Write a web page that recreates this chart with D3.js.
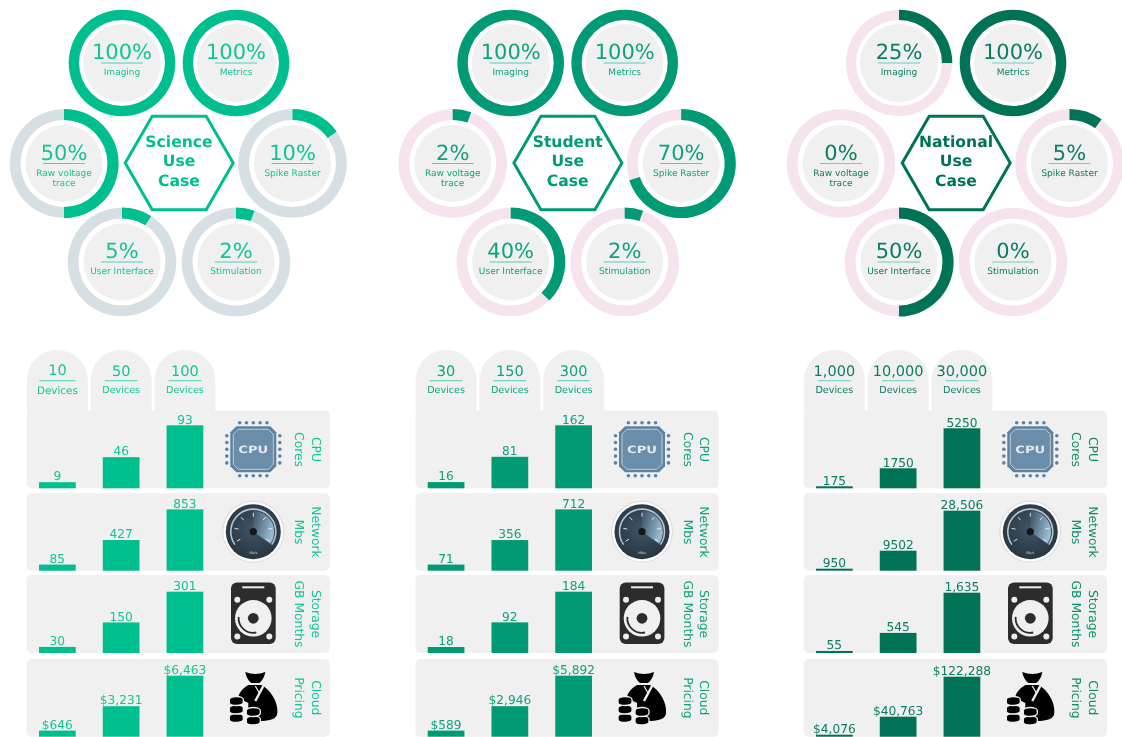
<!DOCTYPE html>
<html>
<head>
<meta charset="utf-8">
<script src="https://cdn.jsdelivr.net/npm/d3@7"></script>
<style>
	html, body { margin: 0; padding: 0; background: #fff; overflow: hidden; }
	/* the picture is soft, like a scaled up raster */
	svg { filter: blur(0.4px); }
	text { font-family: "DejaVu Sans", sans-serif; text-rendering: geometricPrecision; }
</style>
</head>
<body>
<svg id="chart" width="1122" height="737">
	<defs>
		<radialGradient id="gaugeFace" cx="50%" cy="45%" r="60%">
			<stop offset="0%" stop-color="#3f5566"/>
			<stop offset="100%" stop-color="#26333d"/>
		</radialGradient>
		<linearGradient id="gaugeWedge" x1="0" y1="0" x2="1" y2="0.4">
			<stop offset="0%" stop-color="#3a5062"/>
			<stop offset="100%" stop-color="#98bad0"/>
		</linearGradient>
	</defs>
</svg>
<script>
// donut labels and what each ring prints
var donutNames = ["Imaging", "Metrics", "Raw voltage|trace", "Spike Raster", "User Interface", "Stimulation"];
var sciencePct = [100, 100, 50, 10, 5, 2];
var studentPct = [100, 100, 2, 70, 40, 2];
var nationalPct = [25, 100, 0, 5, 50, 0];
// how far the green arc really goes in the picture, not always the printed number
var scienceArc = [100, 100, 50, 15, 9, 5.5];
var studentArc = [100, 100, 5.5, 70, 37.5, 5.5];
var nationalArc = [25, 100, 0, 10, 50, 0];

var useCases = ["Science", "Student", "National"];
var rowNames = [["CPU", "Cores"], ["Network", "Mbs"], ["Storage", "GB Months"], ["Cloud", "Pricing"]];
var rowIcons = ["#iconCpu", "#iconGauge", "#iconDisk", "#iconMoney"];

var scienceDevices = ["10", "50", "100"];
var studentDevices = ["30", "150", "300"];
var nationalDevices = ["1,000", "10,000", "30,000"];

// bar values as printed above the bars
var scienceCpu = ["9", "46", "93"];
var scienceNetwork = ["85", "427", "853"];
var scienceStorage = ["30", "150", "301"];
var sciencePricing = ["$646", "$3,231", "$6,463"];
var studentCpu = ["16", "81", "162"];
var studentNetwork = ["71", "356", "712"];
var studentStorage = ["18", "92", "184"];
var studentPricing = ["$589", "$2,946", "$5,892"];
var nationalCpu = ["175", "1750", "5250"];
var nationalNetwork = ["950", "9502", "28,506"];
var nationalStorage = ["55", "545", "1,635"];
var nationalPricing = ["$4,076", "$40,763", "$122,288"];

var panels = [
	{ name: useCases[0], pct: sciencePct, arc: scienceArc, devices: scienceDevices,
		rows: [scienceCpu, scienceNetwork, scienceStorage, sciencePricing] },
	{ name: useCases[1], pct: studentPct, arc: studentArc, devices: studentDevices,
		rows: [studentCpu, studentNetwork, studentStorage, studentPricing] },
	{ name: useCases[2], pct: nationalPct, arc: nationalArc, devices: nationalDevices,
		rows: [nationalCpu, nationalNetwork, nationalStorage, nationalPricing] }
];

// styles and layout
var panelOffset = [0, 388.7, 777];
var barColor = ["#00bf8f", "#009b74", "#007357"];
var textColor = ["#12c596", "#0ea37d", "#0c7d61"];
var sideColor = ["#12c596", "#0ea37d", "#0b8f6b"];
var ruleColor = ["#35cfa8", "#3fc9a4", "#55d0ae"];
var trackColor = ["#d6dfe4", "#f5e4ee", "#f5e4ee"];
var tabBg = "#f0f0f0";

var ringPlace = [
	{ x: 122, y: 63, r: 53, ri: 43, core: 39 },
	{ x: 236, y: 63, r: 53, ri: 43, core: 39 },
	{ x: 64, y: 163.5, r: 54.3, ri: 43.5, core: 38.5 },
	{ x: 292.5, y: 163.5, r: 54.3, ri: 43.5, core: 38.5 },
	{ x: 122, y: 262, r: 54.3, ri: 43.5, core: 38.5 },
	{ x: 236, y: 262, r: 54.3, ri: 43.5, core: 38.5 }
];
var rowTop = [410.7, 493.3, 575, 659];
var rowBottom = [488.3, 570.7, 653, 736.7];
var iconY = [449.3, 531.7, 613.3, 698];
var barMaxH = [[63, 61.3, 61.3, 61], [63, 61.3, 61.3, 61], [60, 60, 60.3, 60]];

var svg = d3.select("#chart");
var defs = svg.select("defs");

//////////////////////////////////////////////////////////
// icons, drawn once and reused
var cpu = defs.append("g").attr("id", "iconCpu");
function octagon(h, c) {
	return d3.line()([[-h + c, -h], [h - c, -h], [h, -h + c], [h, h - c], [h - c, h], [-h + c, h], [-h, h - c], [-h, -h + c]]) + "Z";
}
cpu.append("path").attr("d", octagon(23, 6)).attr("fill", "#5e82a0");
cpu.append("path").attr("d", octagon(20, 5)).attr("fill", "#6a8da9").attr("stroke", "#d5dfe7").attr("stroke-width", 0.8);
[-13.6, -6.8, 0, 6.8, 13.6].forEach(function(p) {
	[[p, -26.5], [p, 26.5], [-26.5, p], [26.5, p]].forEach(function(c) {
		cpu.append("circle").attr("cx", c[0]).attr("cy", c[1]).attr("r", 1.8).attr("fill", "#5e82a0");
	});
});
cpu.append("text").attr("y", 3.6).attr("text-anchor", "middle").attr("font-size", 10)
	.attr("font-weight", "bold").attr("textLength", 30).attr("lengthAdjust", "spacingAndGlyphs")
	.attr("fill", "#e3e9ee").text("CPU");

var gauge = defs.append("g").attr("id", "iconGauge");
gauge.append("circle").attr("r", 31).attr("fill", "#dcdcdc");
gauge.append("circle").attr("r", 30).attr("fill", "#fbfbfb");
gauge.append("circle").attr("r", 27.5).attr("fill", "url(#gaugeFace)");
gauge.append("path").attr("d", "M0,0L0,-21A21,21 0 0 1 17.2,12Z").attr("fill", "url(#gaugeWedge)");
gauge.append("path").attr("d", "M-18.4,12.9A22.5,22.5 0 1 1 18.4,12.9").attr("fill", "none").attr("stroke", "#b5c4cf").attr("stroke-width", 1.6);
d3.range(-120, 121, 40).forEach(function(a) {
	var t = a * Math.PI / 180;
	gauge.append("line")
		.attr("x1", 15 * Math.sin(t)).attr("y1", -15 * Math.cos(t))
		.attr("x2", 19 * Math.sin(t)).attr("y2", -19 * Math.cos(t))
		.attr("stroke", "#eef2f5").attr("stroke-width", 0.9);
});
gauge.append("circle").attr("r", 3.6).attr("fill", "#12181c");
gauge.append("text").attr("y", 22.5).attr("text-anchor", "middle").attr("font-size", 3.5).attr("fill", "#c8d3da").text("Mb/s");

var disk = defs.append("g").attr("id", "iconDisk");
disk.append("rect").attr("x", -22.3).attr("y", -30.7).attr("width", 44.7).attr("height", 61.3).attr("rx", 6).attr("fill", "#2c2c2c");
disk.append("rect").attr("x", -11).attr("y", -27).attr("width", 22).attr("height", 2).attr("fill", "#eeeeee");
[[-16, -13.5], [16, -13.5], [-16, 23.3], [16, 23.3]].forEach(function(c) {
	disk.append("circle").attr("cx", c[0]).attr("cy", c[1]).attr("r", 3).attr("fill", "#ececec");
});
disk.append("circle").attr("cy", 5).attr("r", 18.3).attr("fill", "#f0f0f0");
disk.append("circle").attr("cy", 5).attr("r", 5.4).attr("fill", "#2c2c2c");
disk.append("path").attr("d", "M-14.6,3.5A14.6,14.6 0 0 0 3,19.2").attr("fill", "none").attr("stroke", "#2c2c2c").attr("stroke-width", 1.8);

var money = defs.append("g").attr("id", "iconMoney");
money.append("path").attr("d", "M-8,-26Q2,-22 12,-26Q11,-19 6,-15L-2,-15Q-7,-19 -8,-26Z").attr("fill", "#000");
money.append("path").attr("d", "M-5,-13L8,-13C18,-8 25,5 24,15C24,21 16,23 7,23L-5,23L-5,5L-15,0C-15,-5 -10,-10 -5,-13Z").attr("fill", "#000");
money.append("path").attr("d", "M10,-12L2,3").attr("fill", "none").attr("stroke", tabBg).attr("stroke-width", 2.4);
money.append("path").attr("d", "M2,-12L6,-5").attr("fill", "none").attr("stroke", tabBg).attr("stroke-width", 1.2);
// coin stacks, bottom coin first
[[-17, 20], [-17, 11.5], [-17, 3], [0, 22.5], [0, 14]].forEach(function(c) {
	money.append("path")
		.attr("transform", "translate(" + c[0] + "," + c[1] + ")")
		.attr("d", "M-7,-1.5A7,3 0 0 1 7,-1.5V1.5A7,3 0 0 1 -7,1.5Z")
		.attr("fill", "#000")
		.attr("stroke", tabBg)
		.attr("stroke-width", 1.3);
});

//////////////////////////////////////////////////////////
panels.forEach(function(panel, p) {
	var g = svg.append("g").attr("transform", "translate(" + panelOffset[p] + ",0)");
	var angle = d3.scaleLinear().domain([0, 100]).range([0, 2 * Math.PI]);

	// Draw the rings
	var ring = g.selectAll(".ring")
		.data(donutNames)
		.enter()
		.append("g")
		.attr("class", "ring")
		.attr("transform", function(d, i) { return "translate(" + ringPlace[i].x + "," + ringPlace[i].y + ")"; });

	ring.append("path")
		.attr("fill", trackColor[p])
		.attr("d", function(d, i) {
			return d3.arc().innerRadius(ringPlace[i].ri).outerRadius(ringPlace[i].r).startAngle(0).endAngle(2 * Math.PI)();
		});
	ring.append("path")
		.attr("fill", barColor[p])
		.attr("d", function(d, i) {
			return d3.arc().innerRadius(ringPlace[i].ri).outerRadius(ringPlace[i].r + 0.3).startAngle(0).endAngle(angle(panel.arc[i]))();
		});
	ring.append("circle")
		.attr("r", function(d, i) { return ringPlace[i].core; })
		.attr("fill", tabBg);
	ring.append("text")
		.attr("y", -4)
		.attr("text-anchor", "middle")
		.attr("font-size", 21)
		.attr("fill", textColor[p])
		.text(function(d, i) { return panel.pct[i] + "%"; });
	ring.append("line")
		.attr("x1", -21).attr("x2", 21)
		.attr("stroke", ruleColor[p])
		.attr("stroke-width", 0.9);
	ring.each(function(d) {
		var lines = d.split("|");
		d3.select(this).selectAll(".small")
			.data(lines)
			.enter()
			.append("text")
			.attr("class", "small")
			.attr("y", function(l, j) { return 12 + j * 10; })
			.attr("text-anchor", "middle")
			.attr("font-size", 9)
			.attr("fill", textColor[p])
			.text(function(l) { return l; });
	});

	// centre hexagon
	var hexPts = d3.range(6).map(function(i) {
		var t = i * Math.PI / 3;
		return [179.2 + 54 * Math.cos(t), 163 + 54 * Math.sin(t)];
	});
	g.append("path")
		.attr("d", d3.line()(hexPts) + "Z")
		.attr("fill", "#fff")
		.attr("stroke", barColor[p])
		.attr("stroke-width", 3);
	g.selectAll(".title")
		.data([panel.name, "Use", "Case"])
		.enter()
		.append("text")
		.attr("class", "title")
		.attr("x", 179)
		.attr("y", function(d, i) { return 146.7 + i * 19.7; })
		.attr("text-anchor", "middle")
		.attr("font-size", 15.6)
		.attr("font-weight", "bold")
		.attr("fill", barColor[p])
		.text(function(d) { return d; });

	// The tabs on top hold the device counts
	var xScale = d3.scaleBand()
		.domain(panel.devices)
		.range([39, 203.3])
		.paddingInner(0.424);

	var tab = g.selectAll(".tab")
		.data(panel.devices)
		.enter()
		.append("g")
		.attr("class", "tab")
		.attr("transform", function(d) { return "translate(" + (xScale(d) + xScale.bandwidth() / 2) + ",0)"; });
	// the first tab of the first panel is set a bit larger in the picture
	function bigTab(i) { return p === 0 && i === 0; }
	tab.append("path")
		.attr("d", "M-30.5,412V380.5A30.5,30.5 0 0 1 30.5,380.5V412Z")
		.attr("fill", tabBg);
	tab.append("text")
		.attr("y", function(d, i) { return bigTab(i) ? 375 : 375.7; })
		.attr("text-anchor", "middle")
		.attr("font-size", 14.5)
		.attr("fill", textColor[p])
		.text(function(d) { return d; });
	tab.append("line")
		.attr("x1", function(d, i) { return bigTab(i) ? -18 : -16.2; })
		.attr("x2", function(d, i) { return bigTab(i) ? 18 : 16.2; })
		.attr("y1", 380.7).attr("y2", 380.7)
		.attr("stroke", ruleColor[p])
		.attr("stroke-width", 0.9);
	tab.append("text")
		.attr("y", function(d, i) { return bigTab(i) ? 394 : 393; })
		.attr("text-anchor", "middle")
		.attr("font-size", function(d, i) { return bigTab(i) ? 10.4 : 9.6; })
		.attr("fill", textColor[p])
		.text("Devices");

	// The metric rows, each with its own y scale
	panel.rows.forEach(function(vals, r) {
		var nums = vals.map(function(v) { return +v.replace(/[^0-9]/g, ""); });
		var yScale = d3.scaleLinear()
			.domain([0, d3.max(nums)])
			.range([rowBottom[r], rowBottom[r] - barMaxH[p][r]]);

		var row = g.append("g");
		row.append("rect")
			.attr("x", 26.7).attr("y", rowTop[r])
			.attr("width", 303.3).attr("height", rowBottom[r] - rowTop[r])
			.attr("rx", 5)
			.attr("fill", tabBg);

		row.selectAll(".bar")
			.data(vals)
			.enter()
			.append("rect")
			.attr("class", "bar")
			.attr("x", function(d, i) { return xScale(panel.devices[i]); })
			.attr("y", function(d, i) { return yScale(nums[i]); })
			.attr("width", xScale.bandwidth())
			.attr("height", function(d, i) { return rowBottom[r] - yScale(nums[i]); })
			.attr("fill", barColor[p]);

		row.selectAll(".value")
			.data(vals)
			.enter()
			.append("text")
			.attr("class", "value")
			.attr("x", function(d, i) { return xScale(panel.devices[i]) + xScale.bandwidth() / 2; })
			.attr("y", function(d, i) { return yScale(nums[i]) - 1.8; })
			.attr("text-anchor", "middle")
			.attr("font-size", 12.2)
			.attr("fill", textColor[p])
			.text(function(d) { return d; });

		row.append("use")
			.attr("href", rowIcons[r])
			.attr("transform", "translate(253.3," + iconY[r] + ")");

		var midY = (rowTop[r] + rowBottom[r]) / 2;
		rowNames[r].forEach(function(t, j) {
			row.append("text")
				.attr("transform", "translate(" + (j === 0 ? 311.5 : 295) + "," + midY + ") rotate(90)")
				.attr("text-anchor", "middle")
				.attr("font-size", 12.3)
				.attr("fill", sideColor[p])
				.text(t);
		});
	});
});
</script>
</body>
</html>
